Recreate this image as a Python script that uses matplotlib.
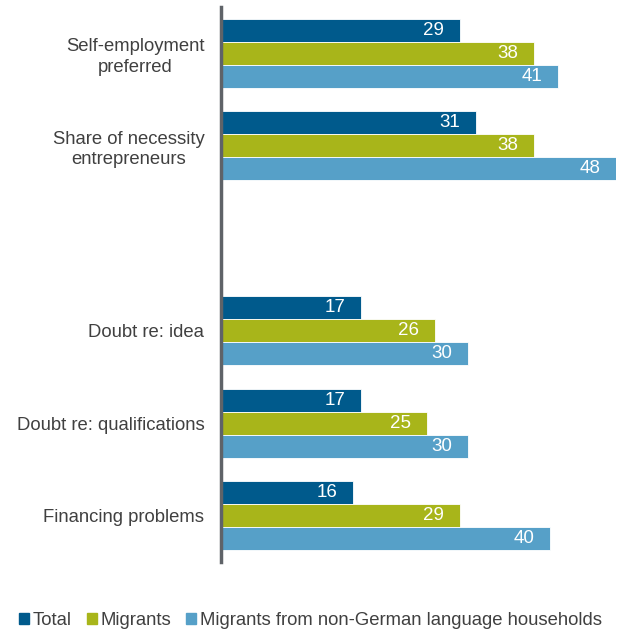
import numpy as np
import matplotlib.pyplot as plt
from matplotlib.patches import Patch

plt.rcParams['font.family'] = ['Liberation Sans', 'DejaVu Sans']

categories = ['Self-employment\npreferred', 'Share of necessity\nentrepreneurs',
              'Doubt re: idea', 'Doubt re: qualifications', 'Financing problems']
slots = [0, 1, 3, 4, 5]  # empty slot between the two blocks
series = ['Total', 'Migrants', 'Migrants from non-German language households']
total = [29, 31, 17, 17, 16]
migrants = [38, 38, 26, 25, 29]
non_german = [41, 48, 30, 30, 40]
colors = ['#005a8c', '#a8b51a', '#56a0c8']

fig = plt.figure(figsize=(6.21, 6.32), dpi=100)
ax = fig.add_axes([221 / 621, 1 - 562 / 632, (616 - 221) / 621, 555 / 632])

h = 0.248
y = np.array(slots, dtype=float)
for i, (vals, c) in enumerate(zip([total, migrants, non_german], colors)):
    ys = y + (i - 1) * h
    ax.barh(ys, vals, height=h, color=c, edgecolor='white', linewidth=0.6)
    for yy, v in zip(ys, vals):
        ax.text(v - 1.9, yy, str(v), color='white', ha='right', va='center', fontsize=13.5)

ax.set_xlim(0, 48)
ax.set_ylim(5.5, -0.5)
ax.set_yticks(slots)
ax.set_yticklabels(categories, fontsize=13.3, color='#404040', multialignment='center',
                   linespacing=1.25)
ax.tick_params(axis='y', length=0, pad=12)
ax.set_xticks([])
for s in ['top', 'right', 'bottom']:
    ax.spines[s].set_visible(False)
ax.spines['left'].set_color('#5f6368')
ax.spines['left'].set_linewidth(2.5)

handles = [Patch(color=c) for c in colors]
fig.legend(handles, series, loc='lower left', bbox_to_anchor=(0.004, -0.022), ncol=3,
           frameon=False, fontsize=13.3, handlelength=0.55, handleheight=0.55,
           handletextpad=0.2, columnspacing=0.8, labelcolor='#404040')

fig.savefig('out.png', dpi=100)
